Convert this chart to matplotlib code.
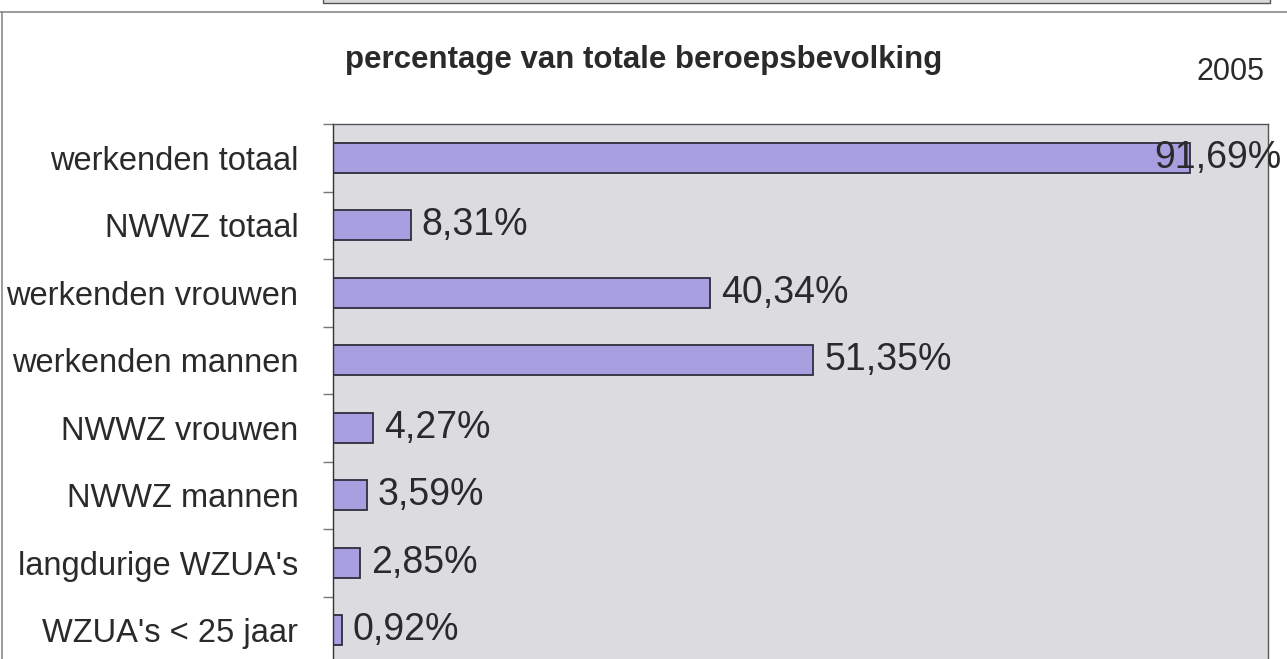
import matplotlib.pyplot as plt
import matplotlib.patches as patches

# data
categories = ["werkenden totaal", "NWWZ totaal", "werkenden vrouwen",
              "werkenden mannen", "NWWZ vrouwen", "NWWZ mannen",
              "langdurige WZUA's", "WZUA's < 25 jaar"]
values = [91.69, 8.31, 40.34, 51.35, 4.27, 3.59, 2.85, 0.92]
title = "percentage van totale beroepsbevolking"
year = "2005"

plt.rcParams['font.family'] = ['Liberation Sans', 'DejaVu Sans']

fig = plt.figure(figsize=(12.87, 6.59), dpi=100)
W, H = 1287.0, 659.0

# bits of the surrounding page frame
fig.add_artist(plt.Line2D([0, 1], [1 - 12 / H, 1 - 12 / H], transform=fig.transFigure,
                          color="#8a8a8a", lw=1.2))
fig.add_artist(plt.Line2D([1.5 / W, 1.5 / W], [0, 1 - 12 / H], transform=fig.transFigure,
                          color="#8a8a8a", lw=1.2))
fig.add_artist(patches.Rectangle((323 / W, 1 - 3 / H), (1270 - 323) / W, 10 / H,
                                 transform=fig.transFigure, facecolor="#d9d9dc",
                                 edgecolor="#555555", lw=1.0))

ax = fig.add_axes([333 / W, 1 - 664 / H, (1268 - 333) / W, (664 - 124) / H])
ax.set_facecolor("#dcdbe0")

y = list(range(len(categories)))
ax.barh(y, values, height=0.44, color="#a89fe0", edgecolor="#2e2e3e", linewidth=1.3)

ax.set_xlim(0, 100)
ax.set_ylim(len(categories) - 0.5, -0.5)
ax.set_xticks([])

# tick marks between categories, labels on the centres
ax.set_yticks([i - 0.5 for i in range(len(categories) + 1)])
ax.set_yticklabels([])
ax.tick_params(axis='y', which='major', length=7.3, width=1, color="#777777")
ax.set_yticks(y, minor=True)
ax.set_yticklabels(categories, minor=True, fontsize=23.5, color="#2a2a2a")
ax.tick_params(axis='y', which='minor', length=0, pad=25)

for s in ax.spines.values():
    s.set_color("#555555")
    s.set_linewidth(1.0)
ax.spines['left'].set_color("#333333")

for i, v in enumerate(values):
    label = f"{v:.2f}%".replace(".", ",")
    if v > 85:
        ax.annotate(label, (100, i), xytext=(14, 0), textcoords='offset pixels',
                    ha='right', va='center', fontsize=27, color="#2a2a2a",
                    annotation_clip=False)
    else:
        ax.annotate(label, (v, i), xytext=(11, 0), textcoords='offset pixels',
                    ha='left', va='center', fontsize=27, color="#2a2a2a")

fig.text(644 / W, 1 - 68 / H, title, ha='center', va='baseline',
         fontsize=22.5, fontweight='bold', color="#2a2a2a")
fig.text(1265 / W, 1 - 80 / H, year, ha='right', va='baseline',
         fontsize=22, color="#2a2a2a")

fig.savefig("out.png", dpi=100)
